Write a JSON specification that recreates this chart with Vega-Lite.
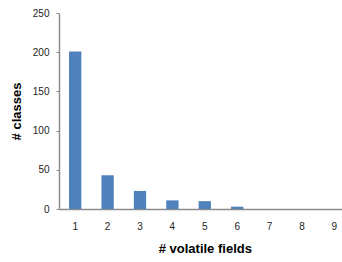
{
  "$schema": "https://vega.github.io/schema/vega-lite/v6.json",
  "autosize": {"type": "none"},
  "padding": {"left": 59, "top": 13, "right": 0, "bottom": 53},
  "width": 283,
  "height": 196,
  "background": "white",
  "config": {
    "view": {"stroke": null},
    "font": "Liberation Sans",
    "axis": {"domainColor": "#8c8c8c", "tickColor": "#8c8c8c", "grid": false, "labelColor": "#222", "titleColor": "#000", "labelFont": "Liberation Sans", "titleFont": "Liberation Sans"}
  },
  "data": {"values": [
    {"fields": 1, "classes": 201},
    {"fields": 2, "classes": 43},
    {"fields": 3, "classes": 23},
    {"fields": 4, "classes": 11},
    {"fields": 5, "classes": 10},
    {"fields": 6, "classes": 3},
    {"fields": 7, "classes": 0},
    {"fields": 8, "classes": 0},
    {"fields": 9, "classes": 0}
  ]},
  "mark": {"type": "bar", "color": "#4F81BD"},
  "encoding": {
    "x": {
      "field": "fields", "type": "ordinal",
      "scale": {"range": [0, 291.6], "paddingInner": 0.62, "paddingOuter": 0.31},
      "axis": {"title": "# volatile fields", "labelAngle": 0, "ticks": false, "labelPadding": 12, "labelFontSize": 10, "titleFontSize": 13, "titleFontWeight": "bold", "titlePadding": 11, "domainWidth": 1.5}
    },
    "y": {
      "field": "classes", "type": "quantitative",
      "scale": {"domain": [0, 250]},
      "axis": {"title": "# classes", "values": [0, 50, 100, 150, 200, 250], "tickSize": 3, "labelPadding": 7, "labelFontSize": 10, "titleFontSize": 13, "titleFontWeight": "bold", "titlePadding": 9, "domainWidth": 1.5}
    }
  }
}
